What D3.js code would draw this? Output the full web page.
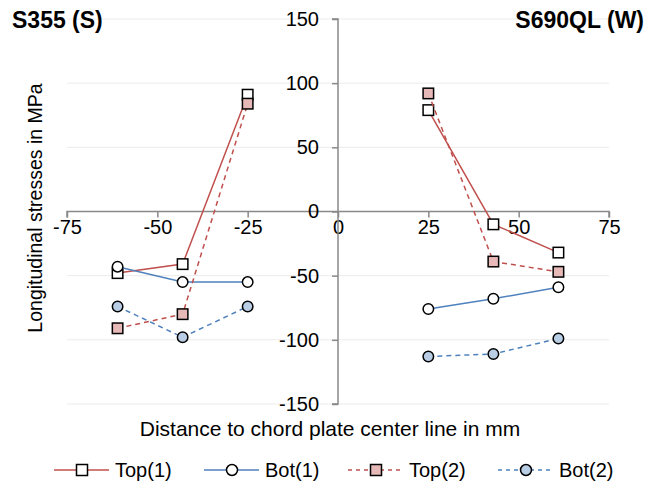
<!DOCTYPE html>
<html>
<head>
<meta charset="utf-8">
<script src="https://cdn.jsdelivr.net/npm/d3@7"></script>
<style>
body { margin: 0; background: #fff; }
svg { font-family: "Liberation Sans", Arial, sans-serif; }
</style>
</head>
<body>
<svg id="chart" width="657" height="486"></svg>
<script>
"use strict";

// Positions of the gauges (mm from centre line)
var xLeft = [-61, -43, -25];
var xRight = [25, 43, 61];

// Longitudinal stresses in MPa, left side (S355) and right side (S690QL)
var top1L = [-48, -41, 91];
var top1R = [79, -10, -32];
var bot1L = [-43, -55, -55];
var bot1R = [-76, -68, -59];
var top2L = [-91, -80, 84];
var top2R = [92, -39, -47];
var bot2L = [-74, -98, -74];
var bot2R = [-113, -111, -99];

var xTicks = [-75, -50, -25, 0, 25, 50, 75];
var yTicks = [-150, -100, -50, 0, 50, 100, 150];
var yGrid = [-150, -100, -50, 50, 100, 150];

var seriesNames = ["Top(1)", "Bot(1)", "Top(2)", "Bot(2)"];

var series = [
	{name: seriesNames[0], left: top1L, right: top1R, color: "#C0504D", dash: null, shape: "square", fill: "#FFFFFF"},
	{name: seriesNames[1], left: bot1L, right: bot1R, color: "#4F81BD", dash: null, shape: "circle", fill: "#FFFFFF"},
	{name: seriesNames[2], left: top2L, right: top2R, color: "#C0504D", dash: "5,4", shape: "square", fill: "#E6B9B8"},
	{name: seriesNames[3], left: bot2L, right: bot2R, color: "#4F81BD", dash: "5,4", shape: "circle", fill: "#B9CDE5"}
];

var FONT = "'Liberation Sans', Arial, sans-serif";
var svg = d3.select("#chart");

// plot area
var plot = {l: 67, r: 609, t: 19, b: 404};

var x = d3.scaleLinear().domain([-75, 75]).range([plot.l, plot.r]);
var y = d3.scaleLinear().domain([-150, 150]).range([plot.b, plot.t]);

// Gridlines
svg.append("g").selectAll("line").data(yGrid).join("line")
	.attr("x1", plot.l).attr("x2", plot.r)
	.attr("y1", function(d) { return y(d); }).attr("y2", function(d) { return y(d); })
	.style("stroke", "#EBEBEB").style("stroke-width", 1);

// X axis at y=0
var gx = svg.append("g").attr("transform", "translate(0," + y(0) + ")")
	.call(d3.axisBottom(x).tickValues(xTicks).tickSize(6).tickPadding(2).tickFormat(String));
// Y axis at x=0
var gy = svg.append("g").attr("transform", "translate(" + x(0) + ",0)")
	.call(d3.axisLeft(y).tickValues(yTicks).tickSize(6).tickPadding(13).tickFormat(String));

[gx, gy].forEach(function(g) {
	g.select(".domain").style("stroke", "#898989").style("stroke-width", 1.5);
	g.selectAll(".tick line").style("stroke", "#898989").style("stroke-width", 1.5);
	g.selectAll(".tick text").style("font-size", "20px").style("fill", "#000")
		.style("font-family", FONT);
});
gy.select(".domain").attr("d", "M-6," + y(150) + "H0V" + y(-150) + "H-6");
gx.select(".domain").attr("d", "M" + x(-75) + ",6V0H" + x(75) + "V6");

// Lines
var line = d3.line().x(function(d) { return x(d[0]); }).y(function(d) { return y(d[1]); });

function drawMarkers(g, pts, s, size) {
	if (s.shape == "square") {
		g.selectAll("rect").data(pts).join("rect")
			.attr("x", function(d) { return x(d[0]) - size/2; })
			.attr("y", function(d) { return y(d[1]) - size/2; })
			.attr("width", size).attr("height", size)
			.style("fill", s.fill).style("stroke", "#000").style("stroke-width", 1.5);
	} else {
		g.selectAll("circle").data(pts).join("circle")
			.attr("cx", function(d) { return x(d[0]); })
			.attr("cy", function(d) { return y(d[1]); })
			.attr("r", size/2)
			.style("fill", s.fill).style("stroke", "#000").style("stroke-width", 1.5);
	}
}

series.forEach(function(s) {
	[[xLeft, s.left], [xRight, s.right]].forEach(function(side) {
		var pts = d3.zip(side[0], side[1]);
		var g = svg.append("g");
		g.append("path").attr("d", line(pts))
			.style("fill", "none").style("stroke", s.color).style("stroke-width", 1.5)
			.style("stroke-dasharray", s.dash);
		drawMarkers(g, pts, s, 10.5);
	});
});

// Titles
svg.append("text").attr("x", 12).attr("y", 28).text("S355 (S)")
	.style("font-size", "23px").style("font-weight", "bold");
svg.append("text").attr("x", 644).attr("y", 28).attr("text-anchor", "end").text("S690QL (W)")
	.style("font-size", "23px").style("font-weight", "bold");

// Axis titles
svg.append("text").attr("x", 330).attr("y", 436).attr("text-anchor", "middle")
	.text("Distance to chord plate center line in mm").style("font-size", "21px");
svg.append("text").attr("transform", "translate(42,208) rotate(-90)").attr("text-anchor", "middle")
	.text("Longitudinal stresses in MPa").style("font-size", "19.5px");

// Legend
var legX = [54, 204, 348, 498];
var legY = 470;
var leg = svg.append("g").selectAll("g").data(series).join("g")
	.attr("transform", function(d, i) { return "translate(" + legX[i] + "," + legY + ")"; });
leg.append("line").attr("x1", 0).attr("x2", 55).attr("y1", 0).attr("y2", 0)
	.style("stroke", function(d) { return d.color; }).style("stroke-width", 1.5)
	.style("stroke-dasharray", function(d) { return d.dash ? "4,4" : null; });
leg.each(function(d) {
	var g = d3.select(this);
	if (d.shape == "square") {
		g.append("rect").attr("x", 28 - 5.5).attr("y", -5.5).attr("width", 11).attr("height", 11)
			.style("fill", d.fill).style("stroke", "#000").style("stroke-width", 1.5);
	} else {
		g.append("circle").attr("cx", 28).attr("cy", 0).attr("r", 5.5)
			.style("fill", d.fill).style("stroke", "#000").style("stroke-width", 1.5);
	}
});
leg.append("text").attr("x", 61).attr("y", 7).text(function(d) { return d.name; })
	.style("font-size", "20px");
</script>
</body>
</html>
